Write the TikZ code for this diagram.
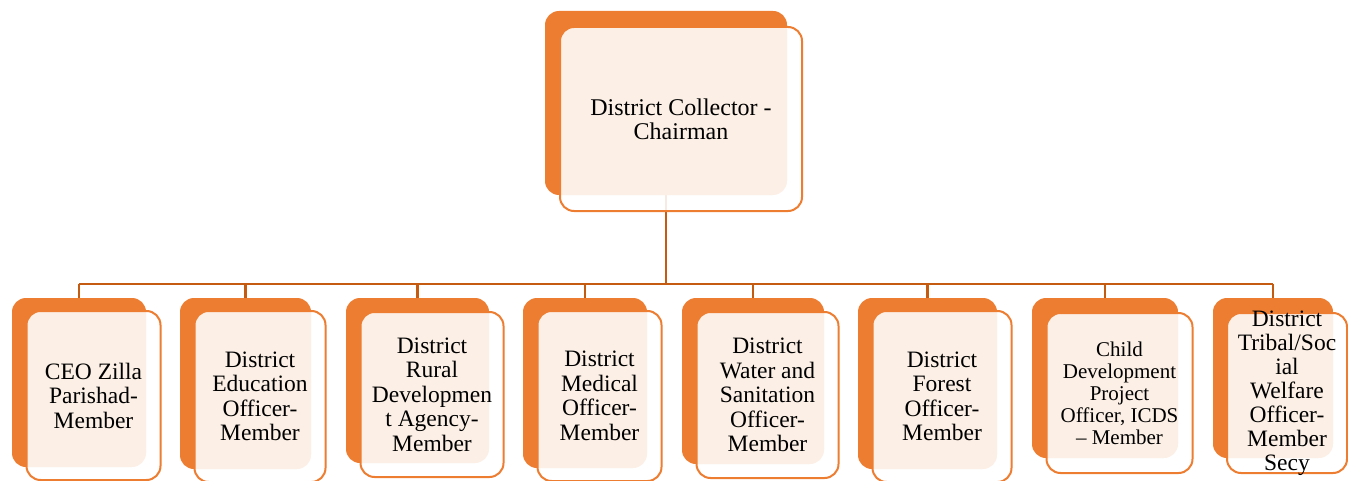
\documentclass[tikz,border=0pt]{standalone}
\usepackage{fontspec}
\setmainfont{Liberation Serif}
\usetikzlibrary{backgrounds}
\definecolor{orng}{HTML}{ED7D31}
\definecolor{connc}{HTML}{C55A11}
\newcommand{\orgbox}[9]{%
  \node[backbox, minimum width={#4-#2}, minimum height={#5-#3}] (#1-b) at ({(#2+#4)/2},{(#3+#5)/2}) {};
  \node[frontbox, minimum width={#4-#2}, minimum height={#5-#3}] (#1-f) at ({(#2+#4)/2+#6},{(#3+#5)/2+#7}) {};
  \node[lbl, font=#8] (#1-t) at (#1-f.center) {#9};
}
\begin{document}
\begin{tikzpicture}[x=1pt,y=-1pt,
  backbox/.style={fill=orng, rounded corners=14pt, inner sep=0pt, outer sep=0pt},
  frontbox/.style={draw=orng, line width=2pt, fill=white, fill opacity=0.88, draw opacity=1, rounded corners=14pt, inner sep=0pt, outer sep=0pt},
  lbl/.style={align=center, inner sep=0pt, text=black},
  connline/.style={draw=connc, line width=2.6pt}]
\useasboundingbox (0,0) rectangle (1348,481);

\orgbox{top}{545}{11}{787}{195}{15}{16}{\fontsize{24}{24}\selectfont}{District Collector -\\Chairman}
\orgbox{ceo}{12}{298}{146}{467}{14.5}{13}{\fontsize{23.5}{24.5}\selectfont}{CEO Zilla\\Parishad-\\Member}
\orgbox{edu}{180}{298}{311}{469}{14.5}{13}{\fontsize{23.5}{24.5}\selectfont}{District\\Education\\Officer-\\Member}
\orgbox{rur}{346}{298}{489}{463}{14.5}{14}{\fontsize{23.5}{24.5}\selectfont}{District\\Rural\\Developmen\\t Agency-\\Member}
\orgbox{med}{523}{298}{647}{468}{14.5}{13}{\fontsize{23.5}{24.5}\selectfont}{District\\Medical\\Officer-\\Member}
\orgbox{wat}{682}{298}{824}{464}{14.5}{14}{\fontsize{23.5}{24.5}\selectfont}{District\\Water and\\Sanitation\\Officer-\\Member}
\orgbox{for}{858}{298}{997}{469}{14.5}{13}{\fontsize{23.5}{24.5}\selectfont}{District\\Forest\\Officer-\\Member}
\orgbox{chd}{1032}{298}{1178}{458}{14.5}{15}{\fontsize{21}{22}\selectfont}{Child\\Development\\Project\\Officer, ICDS\\– Member}
\orgbox{tri}{1213}{298}{1333}{458}{14}{15}{\fontsize{23.5}{24}\selectfont}{District\\Tribal/Soc\\ial\\Welfare\\Officer-\\Member\\Secy}

\coordinate (bus) at (0,284);
\begin{scope}[on background layer]
  \draw[connline] (top-b.south) -- (top-b.south |- bus);
  \draw[connline] (ceo-b.north |- bus) -- (tri-b.north |- bus);
  \foreach \n in {ceo,edu,rur,med,wat,for,chd,tri}
    \draw[connline] (\n-b.north |- bus) -- (\n-b.north);
\end{scope}
\end{tikzpicture}
\end{document}
